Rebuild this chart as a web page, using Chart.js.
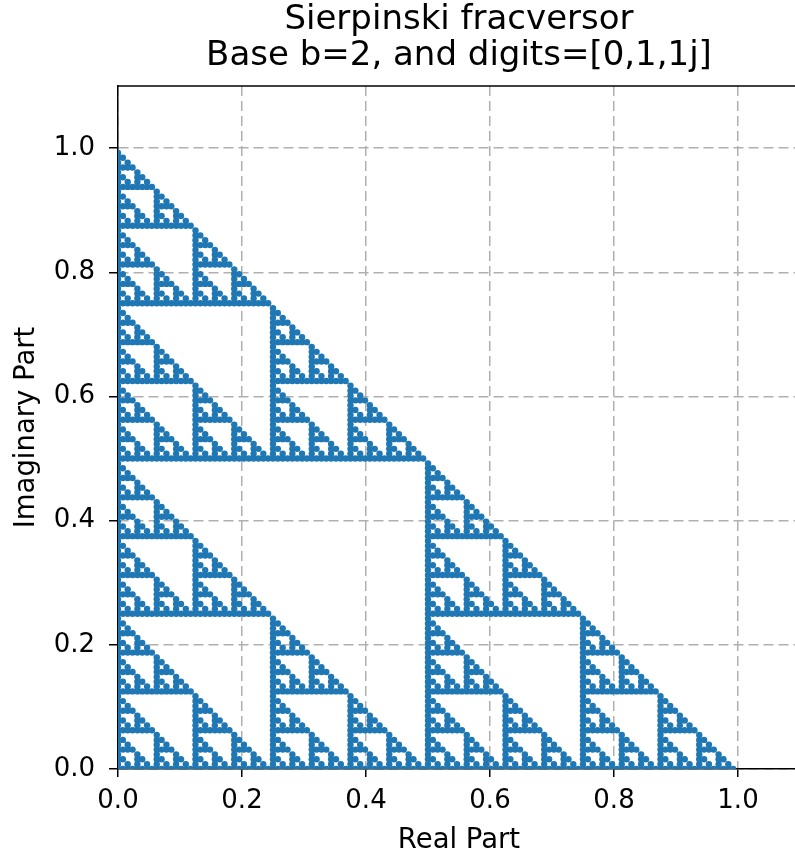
<!DOCTYPE html>
<html>
<head>
<meta charset="utf-8">
<script src="https://cdn.jsdelivr.net/npm/chart.js@4.4.1/dist/chart.umd.min.js"></script>
<style>
  html, body { margin: 0; padding: 0; background: #ffffff; overflow: hidden; }
  #wrap { width: 806px; height: 859px; position: relative; }
</style>
</head>
<body>
<div id="wrap"><canvas id="c" width="806" height="859"></canvas></div>
<script>
// ---- data ----
const titleLines = ['Sierpinski fracversor', 'Base b=2, and digits=[0,1,1j]'];
const base = 2;
const digitsRe = [0, 1, 0];   // digits 0, 1, 1j  (real parts)
const digitsIm = [0, 0, 1];   // digits 0, 1, 1j  (imaginary parts)
const depth = 7;              // number of expansion digits
const tickValues = [0.0, 0.2, 0.4, 0.6, 0.8, 1.0];
const axisMin = 0.0;
const axisMax = 1.1;
const xLabel = 'Real Part';
const yLabel = 'Imaginary Part';

// enumerate all numbers z = sum d_k * base^-k  with d_k in digits
function expand() {
  let pts = [{x: 0, y: 0}];
  for (let k = 1; k <= depth; k++) {
    const w = Math.pow(base, -k);
    const next = [];
    for (const p of pts) {
      for (let i = 0; i < digitsRe.length; i++) {
        next.push({x: p.x + digitsRe[i] * w, y: p.y + digitsIm[i] * w});
      }
    }
    pts = next;
  }
  return pts;
}
const points = expand();

const FONT = "'DejaVu Sans', sans-serif";

const framePlugin = {
  id: 'frame',
  afterDraw(chart) {
    const {ctx, chartArea} = chart;
    ctx.save();
    ctx.strokeStyle = '#000';
    ctx.lineWidth = 1.5;
    ctx.beginPath();
    ctx.moveTo(chartArea.left - 0.75, chartArea.top);
    ctx.lineTo(chartArea.right, chartArea.top);
    ctx.stroke();
    ctx.fillStyle = '#000';
    ctx.font = '34px ' + FONT;
    ctx.textAlign = 'center';
    ctx.textBaseline = 'middle';
    const cx = (chartArea.left + chartArea.right) / 2;
    ctx.fillText(titleLines[0], cx, 20);
    ctx.fillText(titleLines[1], cx, 56);
    ctx.restore();
  }
};

const tickCb = v => Number(v).toFixed(1);

new Chart(document.getElementById('c'), {
  type: 'scatter',
  data: {
    datasets: [{
      data: points,
      backgroundColor: '#1f77b4',
      borderWidth: 0,
      pointRadius: 3.2,
      pointHoverRadius: 3.2
    }]
  },
  options: {
    responsive: false,
    animation: false,
    events: [],
    layout: { padding: { top: 86, right: 6, left: 0, bottom: 0 } },
    plugins: { legend: { display: false }, tooltip: { enabled: false }, title: { display: false } },
    scales: {
      x: {
        type: 'linear',
        min: axisMin, max: axisMax,
        z: 1,
        afterFit: s => { s.height = 90; },
        afterBuildTicks: s => { s.ticks = tickValues.map(v => ({value: v})); },
        ticks: { callback: tickCb, color: '#000', font: { family: FONT, size: 26 }, padding: 9, maxRotation: 0 },
        grid: { color: '#b0b0b0', lineWidth: 1.5, tickColor: '#000', tickLength: 8, tickWidth: 1.5, tickBorderDash: [] },
        border: { display: true, color: '#000', width: 1.5, dash: [10, 5] },
        title: { display: true, text: xLabel, color: '#000', font: { family: FONT, size: 27.5 }, padding: { top: 0, bottom: 2 } }
      },
      y: {
        type: 'linear',
        min: axisMin, max: axisMax,
        z: 1,
        afterFit: s => { s.width = 118; },
        afterBuildTicks: s => { s.ticks = tickValues.map(v => ({value: v})); },
        ticks: { callback: tickCb, color: '#000', font: { family: FONT, size: 26 }, padding: 14 },
        grid: { color: '#b0b0b0', lineWidth: 1.5, tickColor: '#000', tickLength: 9, tickWidth: 1.5, tickBorderDash: [] },
        border: { display: true, color: '#000', width: 1.5, dash: [10, 5] },
        title: { display: true, text: yLabel, color: '#000', font: { family: FONT, size: 27.5 }, padding: { top: 10, bottom: 0 } }
      }
    }
  },
  plugins: [framePlugin]
});
</script>
</body>
</html>
